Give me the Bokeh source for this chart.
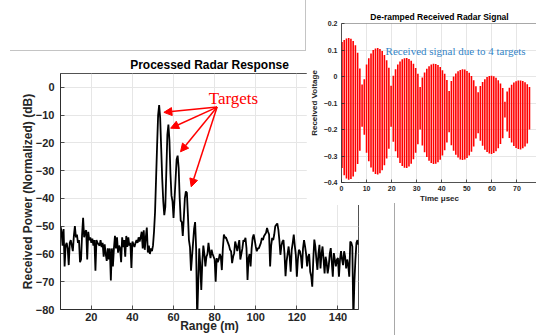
import numpy as np
from bokeh.plotting import figure
from bokeh.models import (Range1d, Label, Arrow, NormalHead, Div, Span,
                          FixedTicker)
from bokeh.layouts import column
from bokeh.embed import file_html
from bokeh.resources import INLINE

# ---------------- data: processed radar response ----------------
RANGE_BINS_M = np.arange(5.0, 150.25, 0.5)
POWER_DB = [
    -50, -52, -57, -51, -64.5, -57, -56, -58, -64, -56,
    -55, -57, -59, -53.5, -50, -54, -53, -56, -55, -63,
    -62, -53, -47, -54, -52, -51.5, -62, -52, -55, -54,
    -56, -54.5, -57, -55, -66, -55, -56, -56.5, -57, -55,
    -57.5, -56, -61, -56.5, -60, -62.5, -58, -62, -58, -69.5,
    -58, -64.5, -58, -53.5, -58, -54, -59.5, -57, -58, -63,
    -54, -57.5, -55, -61, -53.5, -57.5, -54, -57, -56, -65,
    -55.5, -56.5, -57.5, -56, -55, -56, -54, -55.5, -54, -52,
    -58, -51.5, -58.5, -54, -50.5, -59.5, -57, -60, -58, -59,
    -57, -52, -45, -33, -21, -10, -6.4, -11, -22, -33,
    -41, -46, -43, -30, -17, -13.4, -19, -31, -39, -41,
    -47, -40, -33, -26, -24.6, -29, -40, -48, -48.5, -53.5,
    -47, -40, -37.5, -38, -46, -55, -57.5, -66, -61, -56,
    -51, -48.5, -58, -84, -71, -58, -64, -73, -63, -57,
    -60, -64.5, -61, -60, -56, -59, -61.5, -58.5, -60, -61,
    -62, -70, -61.5, -63, -62, -60, -61, -65.8, -58, -53,
    -54.2, -54, -55, -56, -57, -58.5, -59, -63.3, -61, -59.7,
    -55.5, -57, -59, -57, -55, -62, -60, -58, -55, -55.5,
    -54.2, -58, -69.4, -61.5, -60, -64.5, -58, -54.2, -53, -55,
    -57.3, -59, -58, -58, -57, -56, -54.2, -55, -53.6, -53,
    -52.4, -50.6, -52, -53, -64.5, -57, -54.2, -55, -53, -50,
    -49.5, -49, -51.2, -55, -60.3, -57, -55.5, -55, -60, -68,
    -62.7, -60, -57.3, -61, -66.4, -58.5, -56, -53, -57, -60.3,
    -68.2, -62, -58.5, -59, -61, -65.2, -58, -55, -57.3, -60,
    -64.5, -61, -60, -66.4, -68, -71.8, -62, -54.8, -57.3, -62,
    -65.7, -60, -56.7, -65.2, -60, -57.3, -62, -67, -61, -63,
    -67, -64.5, -60, -57.9, -63, -68.2, -59.7, -62, -64.5, -62,
    -61.5, -68.2, -62, -59, -62, -64, -59, -61, -65.2, -62,
    -64, -68.2, -55.5, -56, -57.3, -84, -70, -62, -56, -55,
    -56.7,
]
X_TICKS_M = [20, 40, 60, 80, 100, 120, 140]
Y_TICKS_DB = [-80, -70, -60, -50, -40, -30, -20, -10, 0]

# ---------------- data: de-ramped received signal ----------------
TIME_US = np.linspace(0.2, 75.0, 85)
V_TOP = [
    0.13, 0.138, 0.143, 0.145, 0.142, 0.134, 0.118, 0.09, 0.03, -0.03,
    -0.01, 0.045, 0.069, 0.087, 0.10, 0.106, 0.108, 0.104, 0.096, 0.081,
    0.061, 0.033, -0.035, 0.003, 0.027, 0.045, 0.057, 0.065, 0.069, 0.07,
    0.066, 0.059, 0.048, 0.032, 0.01, -0.04, -0.004, 0.015, 0.029, 0.039,
    0.045, 0.048, 0.047, 0.043, 0.036, 0.024, 0.01, -0.013, -0.055, -0.017,
    0.0, 0.011, 0.02, 0.025, 0.027, 0.026, 0.021, 0.014, 0.002, -0.014,
    -0.037, -0.059, -0.036, -0.021, -0.01, -0.002, 0.002, 0.003, 0.001, -0.005,
    -0.014, -0.026, -0.043, -0.095, -0.057, -0.042, -0.031, -0.023, -0.018, -0.015,
    -0.015, -0.017, -0.022, -0.029, -0.04,
]
V_BOTTOM = [
    -0.345, -0.373, -0.385, -0.39, -0.387, -0.377, -0.359, -0.33, -0.28, -0.19,
    -0.22, -0.288, -0.32, -0.343, -0.359, -0.368, -0.37, -0.365, -0.354, -0.335,
    -0.309, -0.273, -0.19, -0.246, -0.282, -0.307, -0.326, -0.338, -0.344, -0.345,
    -0.34, -0.329, -0.312, -0.288, -0.256, -0.2, -0.26, -0.286, -0.304, -0.318,
    -0.326, -0.33, -0.329, -0.324, -0.314, -0.298, -0.278, -0.249, -0.21, -0.259,
    -0.28, -0.295, -0.306, -0.313, -0.315, -0.313, -0.308, -0.298, -0.284, -0.264,
    -0.234, -0.214, -0.242, -0.261, -0.276, -0.285, -0.291, -0.292, -0.289, -0.282,
    -0.271, -0.255, -0.233, -0.155, -0.208, -0.232, -0.249, -0.262, -0.27, -0.274,
    -0.275, -0.271, -0.264, -0.253, -0.2,
]
T_TICKS_US = [0, 10, 20, 30, 40, 50, 60, 70]
V_TICKS = [-0.4, -0.3, -0.2, -0.1, 0, 0.1, 0.2]

# annotation anchors (data units of the main chart)
ARROW_START = (81.2, -7.1)
ARROW_ENDS = [(55.3, -9.0), (58.6, -14.7), (63.4, -23.2), (68.6, -35.8)]

FONT = "Liberation Sans"
SERIF = "Liberation Serif"
AX = "#262626"
GRID = "#e6e6e6"


def style_axis(ax, ticks, fs, standoff, tick_len):
    ax.ticker = FixedTicker(ticks=ticks)
    ax.axis_line_color = AX
    ax.axis_line_width = 0.8
    ax.major_tick_line_color = AX
    ax.major_tick_line_width = 0.8
    ax.major_tick_in = tick_len
    ax.major_tick_out = 0
    ax.minor_tick_line_color = None
    ax.major_label_text_font = FONT
    ax.major_label_text_font_style = "bold"
    ax.major_label_text_font_size = fs
    ax.major_label_text_color = AX
    ax.major_label_standoff = standoff
    ax.axis_label_text_font = FONT
    ax.axis_label_text_font_style = "bold"
    ax.axis_label_text_color = AX


def at(left, top):
    # page coordinates (absolutely placed parts sit on the viewport)
    return {"position": "absolute", "left": f"{left}px", "top": f"{top}px"}


# ---------------- main chart ----------------
p = figure(width=536, height=335, output_backend="svg", toolbar_location=None,
           x_range=Range1d(5, 150), y_range=Range1d(-80, 5),
           min_border_left=60, min_border_right=178, min_border_top=73,
           min_border_bottom=25, title="Processed Radar Response")
p.title.text_font = FONT
p.title.text_font_size = "12px"
p.title.text_font_style = "bold"
p.title.text_color = "black"
p.title.align = "center"
p.title.standoff = 3
p.background_fill_color = "white"
p.border_fill_color = "white"
p.outline_line_color = AX
p.outline_line_width = 0.8

style_axis(p.xaxis[0], X_TICKS_M, "11px", 3, 4)
style_axis(p.yaxis[0], Y_TICKS_DB, "11px", 6, 4)
p.xaxis[0].axis_label = "Range (m)"
p.xaxis[0].axis_label_text_font_size = "12px"
p.xaxis[0].axis_label_standoff = -5
p.yaxis[0].axis_label = "Received Power (Normalized) (dB)"
p.yaxis[0].axis_label_text_font_size = "12px"
p.yaxis[0].axis_label_standoff = -2
p.xgrid.ticker = FixedTicker(ticks=X_TICKS_M)
p.ygrid.ticker = FixedTicker(ticks=Y_TICKS_DB)
p.grid.grid_line_color = GRID

p.line(RANGE_BINS_M, POWER_DB, line_color="black", line_width=1.8)

p.add_layout(Label(x=77.1, y=-4.0, text="Targets", text_baseline="alphabetic",
                   text_font=SERIF, text_font_size="17px", text_color="#ff0000"))
for xe, ye in ARROW_ENDS:
    p.add_layout(Arrow(end=NormalHead(size=8, fill_color="#ff0000",
                                      line_color="#ff0000"),
                       x_start=ARROW_START[0], y_start=ARROW_START[1],
                       x_end=xe, y_end=ye, line_color="#ff0000", line_width=1.5))

# ---------------- inset chart ----------------
q = figure(frame_width=196, frame_height=159, output_backend="svg",
           toolbar_location=None,
           x_range=Range1d(0, 78.2), y_range=Range1d(-0.4, 0.2),
           min_border_left=33, min_border_right=0, min_border_top=23,
           min_border_bottom=20, title="De-ramped Received Radar Signal")
q.title.text_font = FONT
q.title.text_font_size = "8.5px"
q.title.text_font_style = "bold"
q.title.text_color = "black"
q.title.align = "center"
q.title.offset = 1
q.title.standoff = 3
q.background_fill_color = "white"
q.border_fill_color = "white"
q.outline_line_color = None

style_axis(q.xaxis[0], T_TICKS_US, "7px", 3, 3)
style_axis(q.yaxis[0], V_TICKS, "7px", 4, 3)
q.xaxis[0].axis_label = "Time \u03bcsec"
q.xaxis[0].axis_label_text_font_size = "8px"
q.xaxis[0].axis_label_standoff = 0
q.yaxis[0].axis_label = "Received Voltage"
q.yaxis[0].axis_label_text_font_size = "8px"
q.yaxis[0].axis_label_standoff = 2
q.xgrid.ticker = FixedTicker(ticks=T_TICKS_US)
q.ygrid.ticker = FixedTicker(ticks=V_TICKS)
q.grid.grid_line_color = GRID
q.add_layout(Span(location=V_TICKS[-1], dimension="width", line_color=AX,
                  line_width=0.8))

q.segment(x0=TIME_US, y0=V_BOTTOM, x1=TIME_US, y1=V_TOP,
          line_color="#ff0000", line_width=1.6)
q.add_layout(Label(x=17.6, y=0.098, text="Received signal due to 4 targets",
                   text_baseline="alphabetic", text_font=SERIF,
                   text_font_size="11px", text_color="#3384c6"))

inset_box = column(q, spacing=0, styles=at(306, 0))

# ---------------- window edges seen in the screenshot ----------------
d1 = Div(text="", width=296, height=51, margin=0,
         styles={**at(10, 0), "width": "296px", "height": "51px",
                 "border-right": "1px solid #c4c4c4",
                 "border-bottom": "1px solid #c4c4c4"})
d2 = Div(text="", width=1, height=132, margin=0,
         styles={**at(394, 203), "width": "1px", "height": "132px",
                 "border-left": "1px solid #a8a8a8"})

layout = column(p, inset_box, d1, d2, spacing=0)
open("out.html", "w").write(file_html(layout, INLINE))
